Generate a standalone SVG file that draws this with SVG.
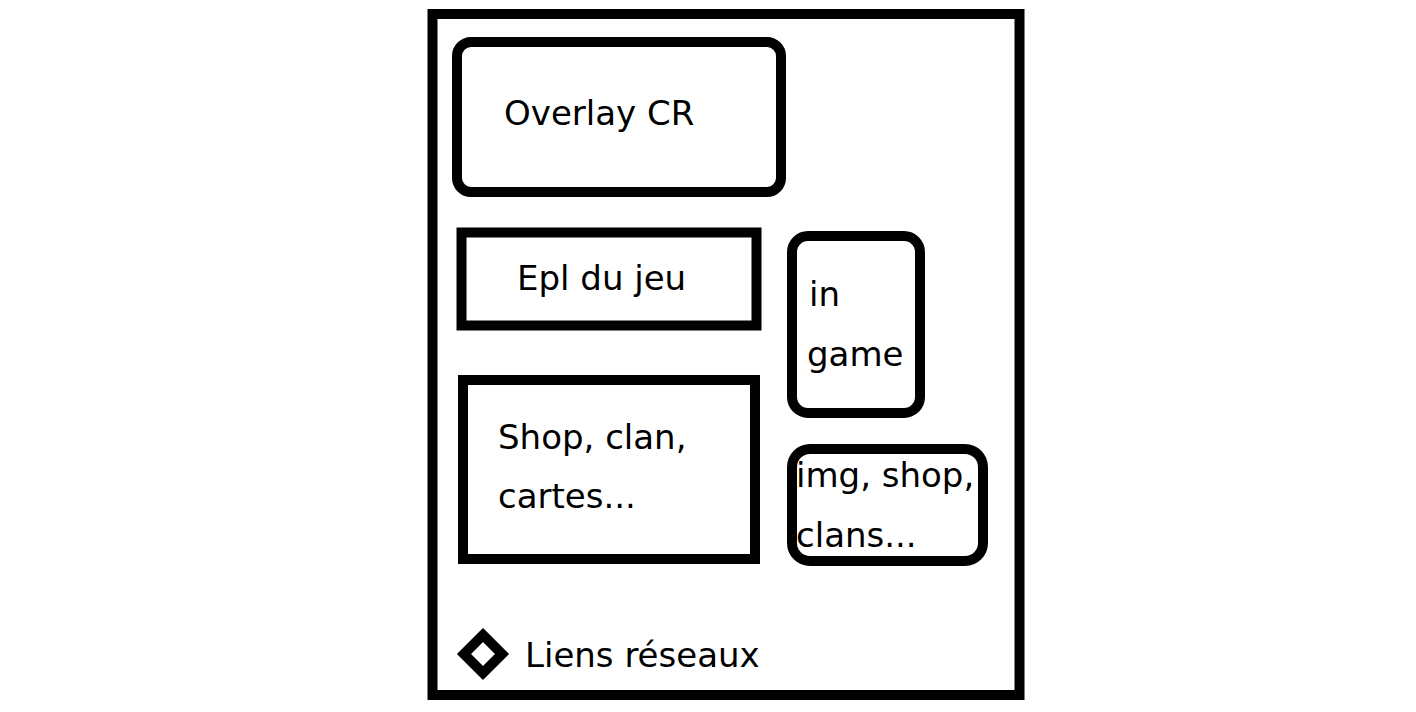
<svg xmlns="http://www.w3.org/2000/svg" width="1416" height="712" viewBox="0 0 1416 712">
<style>
.box{fill:#fff;stroke:#000;stroke-width:10}
.t{font-family:"DejaVu Sans","Liberation Sans",sans-serif;font-size:34px;fill:#000}
</style>
<rect x="0" y="0" width="1416" height="712" fill="#fff"/>
<g id="frame"><rect class="box" x="432.5" y="14" width="587" height="681"/></g>
<g id="overlay"><rect class="box" x="457" y="42" width="324" height="150" rx="14"/><text class="t" x="504" y="125">Overlay CR</text></g>
<g id="epl"><rect class="box" x="461.5" y="232.5" width="295" height="93"/><text class="t" x="517" y="290">Epl du jeu</text></g>
<g id="ingame"><rect class="box" x="792" y="236" width="128" height="177" rx="16"/><text class="t" x="809" y="306">in</text><text class="t" x="807" y="366">game</text></g>
<g id="shop"><rect class="box" x="463" y="380" width="292" height="179"/><text class="t" x="498" y="449">Shop, clan,</text><text class="t" x="498" y="508">cartes...</text></g>
<g id="img"><rect class="box" x="792" y="449" width="191" height="112" rx="18"/><text class="t" x="796" y="487">img, shop,</text><text class="t" x="796" y="547">clans...</text></g>
<g id="liens"><polygon points="483,635 502,654 483,673 464,654" fill="none" stroke="#000" stroke-width="10"/><text class="t" x="525" y="667">Liens réseaux</text></g>
<g id="connectors"></g>
</svg>
